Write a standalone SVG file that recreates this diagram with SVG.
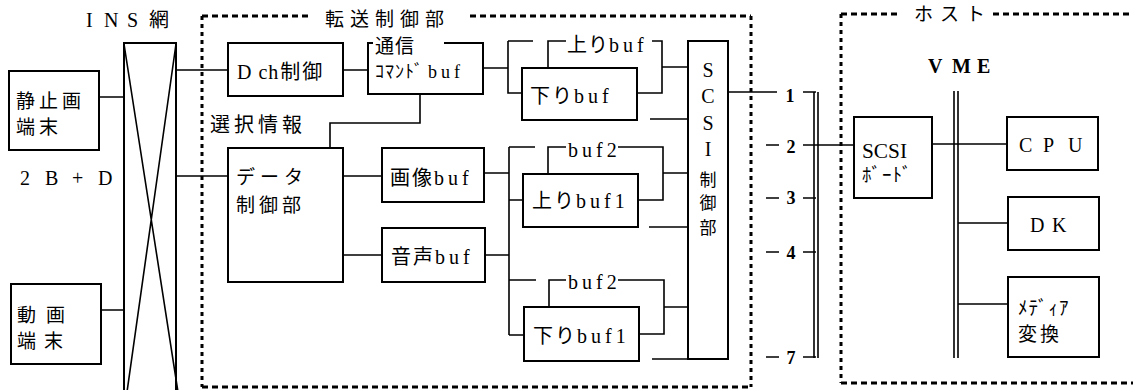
<svg xmlns="http://www.w3.org/2000/svg" width="1133" height="390" viewBox="0 0 1133 390">
<style>
.box{fill:none;stroke:#000;stroke-width:2}
.ln{fill:none;stroke:#000;stroke-width:1.6}
.dh{fill:none;stroke:#000;stroke-width:3;stroke-dasharray:6 4}
.dv{fill:none;stroke:#000;stroke-width:3;stroke-dasharray:4 4}
.t{font-family:"Liberation Serif","Noto Sans CJK JP",serif;font-size:20px;fill:#000}
.j{font-family:"Noto Sans CJK JP",sans-serif;font-size:19px;fill:#000}
.n{font-family:"Liberation Serif",serif;font-size:18px;font-weight:bold;fill:#000}
</style>
<rect width="1133" height="390" fill="#fff"/>

<g id="transfer-frame">
<path class="dh" d="M202 16 H312 M470 16 H751 M202 387 H751"/>
<path class="dv" d="M202 16 V387 M751 16 V387"/>
<text class="j" x="325" y="26" font-size="19" letter-spacing="6">転送制御部</text>
</g>
<g id="host-frame">
<path class="dh" d="M841 14 H898 M993 14 H1133 M841 383 H1133"/>
<path class="dv" d="M841 14 V383"/>
<text class="j" x="914 940 966" y="21" font-size="15">ホスト</text>
</g>

<g id="connectors">
<path class="ln" d="M99 97 H124 M101 310 H125 M177 70 H228 M177 176 H228 M343 70 H368"/>
<path class="ln" d="M420 94 V123 H330 V148"/>
<path class="ln" d="M483 68 H508 M508 41 V93 H522 M508 41 H533"/>
<path class="ln" d="M548 68 V41 H566 M652 41 H662 V93 H637 M662 67 H688 M650 119 H688"/>
<path class="ln" d="M343 176 H382 M343 255 H382"/>
<path class="ln" d="M484 173 H509 M509 147 V335 M509 147 H535 M509 200 H523 M485 255 H509 M509 280 H536 M509 335 H524"/>
<path class="ln" d="M548 174 V147 H566 M618 147 H663 V200 H638 M663 173 H688 M649 227 H688"/>
<path class="ln" d="M549 307 V280 H566 M618 280 H664 V334 H639 M664 307 H688 M652 359 H688"/>
<path class="ln" d="M728 92 H777 M803 92 H816 M803 145 H855 M803 198 H816 M803 252 H816 M803 357 H816"/>
<path class="ln" d="M766 145 H779 M766 198 H779 M766 252 H779 M766 357 H779"/>
<path class="ln" d="M814 92 V358 M818 92 V358"/>
<path class="ln" d="M954 91 V358 M958 91 V358"/>
<path class="ln" d="M932 144 H1007 M958 223 H1008 M958 304 H1008"/>
<g class="n" text-anchor="middle">
<text x="790" y="102">1</text>
<text x="791" y="153">2</text>
<text x="791" y="204">3</text>
<text x="791" y="259">4</text>
<text x="791" y="364">7</text>
</g>
<text class="t" x="210" y="132" letter-spacing="4">選択情報</text>
<text class="t" x="20 45 72 98" y="185" font-size="19">2B+D</text>
<text class="t" x="928 952 977" y="73" font-weight="bold" font-size="19">VME</text>
</g>

<g id="ins">
<path class="box" d="M124 391 V43 H176 V391"/>
<path class="ln" d="M124 44 L178 392 M176 44 L127 392"/>
<text class="t" x="86 104 127 149" y="27">INS網</text>
</g>

<g id="still-terminal">
<rect class="box" x="9" y="71" width="90" height="79"/>
<text class="j" x="16" y="108" letter-spacing="4">静止画</text>
<text class="j" x="16" y="134" letter-spacing="4">端末</text>
</g>
<g id="video-terminal">
<rect class="box" x="11" y="284" width="90" height="80"/>
<text class="j" x="17" y="322" letter-spacing="10">動画</text>
<text class="j" x="17" y="348" letter-spacing="8">端末</text>
</g>

<g id="dch">
<rect class="box" x="228" y="43" width="115" height="53"/>
<text class="t" x="237" y="79"><tspan>D</tspan><tspan dx="7" letter-spacing="1">ch</tspan><tspan dx="1" letter-spacing="2">制御</tspan></text>
</g>
<g id="comm-buf">
<path class="box" d="M373 43 H368 V94 H483 V43 H444"/>
<text class="t"><tspan x="375" y="53" font-family="Noto Sans CJK JP" font-size="19" letter-spacing="1">通信</tspan><tspan x="375" y="78" font-family="Noto Sans CJK JP" font-size="18" letter-spacing="1">ｺﾏﾝﾄﾞ</tspan><tspan dx="4" font-size="18" letter-spacing="4">buf</tspan></text>
</g>
<g id="data-ctrl">
<rect class="box" x="228" y="148" width="115" height="134"/>
<text class="j" x="236" y="184" letter-spacing="5">データ</text>
<text class="j" x="236" y="212" letter-spacing="4">制御部</text>
</g>
<g id="image-buf">
<rect class="box" x="382" y="148" width="102" height="54"/>
<text class="t" x="390" y="185"><tspan letter-spacing="2">画像</tspan><tspan letter-spacing="4">buf</tspan></text>
</g>
<g id="audio-buf">
<rect class="box" x="382" y="228" width="103" height="54"/>
<text class="t" x="391" y="264"><tspan letter-spacing="2">音声</tspan><tspan letter-spacing="4">buf</tspan></text>
</g>
<g id="down-buf">
<rect class="box" x="522" y="68" width="115" height="52"/>
<text class="t" x="530" y="103"><tspan letter-spacing="2">下り</tspan><tspan letter-spacing="4">buf</tspan></text>
</g>
<g id="up-buf">
<text class="t" x="567" y="52" font-size="19"><tspan letter-spacing="1">上り</tspan><tspan letter-spacing="4">buf</tspan></text>
</g>
<g id="up-buf1">
<rect class="box" x="523" y="174" width="115" height="53"/>
<text class="t" x="532" y="208"><tspan letter-spacing="2">上り</tspan><tspan letter-spacing="4">buf1</tspan></text>
</g>
<g id="up-buf2">
<text class="t" x="568" y="157" font-size="19" letter-spacing="4">buf2</text>
</g>
<g id="down-buf1">
<rect class="box" x="524" y="307" width="115" height="54"/>
<text class="t" x="533" y="343"><tspan letter-spacing="2">下り</tspan><tspan letter-spacing="4">buf1</tspan></text>
</g>
<g id="down-buf2">
<text class="t" x="568" y="289" font-size="19" letter-spacing="4">buf2</text>
</g>
<g id="scsi-ctrl">
<rect class="box" x="688" y="41" width="40" height="318"/>
<text class="t" text-anchor="middle"><tspan x="708" y="77">S</tspan><tspan x="708" y="103">C</tspan><tspan x="708" y="130">S</tspan><tspan x="708" y="156">I</tspan><tspan x="708" y="186" font-family="Noto Sans CJK JP" font-size="17">制</tspan><tspan x="708" y="209" font-family="Noto Sans CJK JP" font-size="17">御</tspan><tspan x="708" y="234" font-family="Noto Sans CJK JP" font-size="17">部</tspan></text>
</g>
<g id="scsi-board">
<rect class="box" x="854" y="117" width="78" height="81"/>
<text class="t" x="862" y="158" font-size="18" textLength="45" lengthAdjust="spacingAndGlyphs">SCSI</text>
<text class="j" x="862" y="182" font-size="17" letter-spacing="1">ﾎﾞｰﾄﾞ</text>
</g>
<g id="cpu">
<rect class="box" x="1007" y="117" width="91" height="53"/>
<text class="t" x="1019 1043 1068" y="152">CPU</text>
</g>
<g id="dk">
<rect class="box" x="1008" y="197" width="91" height="53"/>
<text class="t" x="1030 1052" y="232">DK</text>
</g>
<g id="media">
<rect class="box" x="1008" y="277" width="91" height="80"/>
<text class="j" x="1018" y="315" font-size="17" letter-spacing="1">ﾒﾃﾞｨｱ</text>
<text class="j" x="1018" y="341" letter-spacing="3">変換</text>
</g>
</svg>
